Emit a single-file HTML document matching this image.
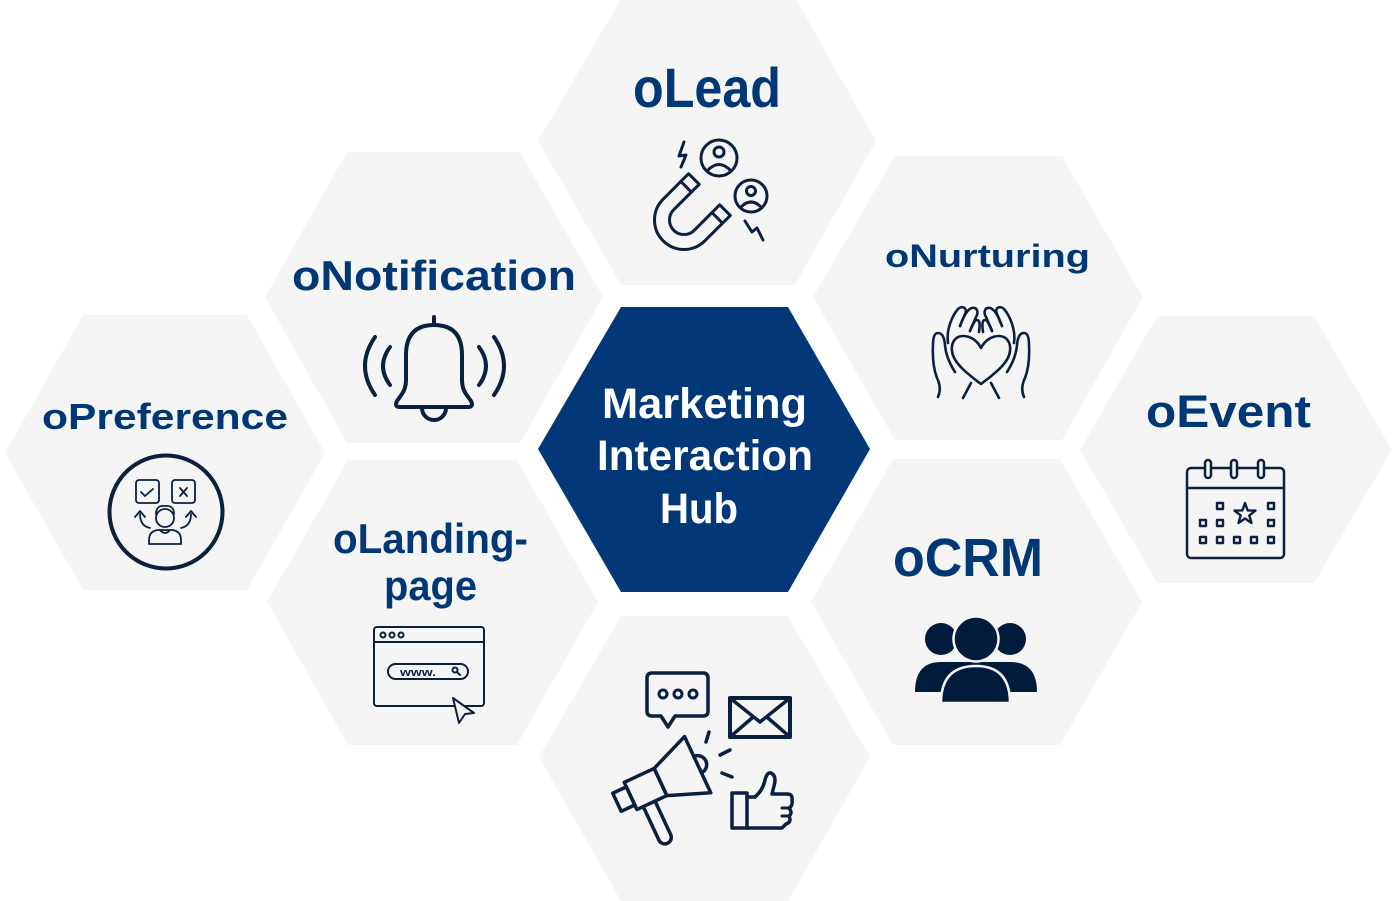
<!DOCTYPE html>
<html>
<head>
<meta charset="utf-8">
<style>
  html,body{margin:0;padding:0;background:#ffffff;}
  svg{display:block;}
  .lbl{font-family:"Liberation Sans",Arial,sans-serif;font-weight:bold;fill:#003876;}
  .hub{font-family:"Liberation Sans",Arial,sans-serif;font-weight:bold;fill:#ffffff;}
  .ic{fill:none;stroke:#0b1f3f;stroke-linecap:round;stroke-linejoin:round;}
</style>
</head>
<body>
<svg width="1394" height="901" viewBox="0 0 1394 901" xmlns="http://www.w3.org/2000/svg">
  <rect width="1394" height="901" fill="#ffffff"/>
  <!-- hexagons -->
  <g fill="#f5f5f5">
    <polygon points="622,-3 795,-3 876,141 795,285 621,285 538,141"/>
    <polygon points="347,152 520,152 603,297 520,443 347,443 265,297"/>
    <polygon points="83,315 247,315 325,453 247,590 83,590 5,453"/>
    <polygon points="348,460 517,460 598,602 517,745 348,745 267,602"/>
    <polygon points="621,616 788,616 870,757 788,901 621,901 539,757"/>
    <polygon points="895,156 1062,156 1143,297 1062,440 895,440 813,297"/>
    <polygon points="893,459 1060,459 1142,602 1060,745 893,745 811,602"/>
    <polygon points="1157,316 1314,316 1392,450 1314,583 1157,583 1080,450"/>
  </g>
  <polygon points="621,307 788,307 870,449 788,592 621,592 538,449" fill="#023877"/>

  <!-- center text -->
  <text class="hub" x="602" y="418" font-size="43" textLength="205" lengthAdjust="spacingAndGlyphs">Marketing</text>
  <text class="hub" x="597" y="470" font-size="43" textLength="216" lengthAdjust="spacingAndGlyphs">Interaction</text>
  <text class="hub" x="660" y="523" font-size="43" textLength="78" lengthAdjust="spacingAndGlyphs">Hub</text>

  <!-- labels -->
  <text class="lbl" x="633" y="107" font-size="56" textLength="148" lengthAdjust="spacingAndGlyphs">oLead</text>
  <text class="lbl" x="292" y="290" font-size="42" textLength="284" lengthAdjust="spacingAndGlyphs">oNotification</text>
  <text class="lbl" x="42" y="429" font-size="36" textLength="246" lengthAdjust="spacingAndGlyphs">oPreference</text>
  <text class="lbl" x="333" y="553" font-size="42" textLength="195" lengthAdjust="spacingAndGlyphs">oLanding-</text>
  <text class="lbl" x="384" y="600" font-size="42" textLength="93" lengthAdjust="spacingAndGlyphs">page</text>
  <text class="lbl" x="885" y="267" font-size="32" textLength="205" lengthAdjust="spacingAndGlyphs">oNurturing</text>
  <text class="lbl" x="893" y="576" font-size="54" textLength="150" lengthAdjust="spacingAndGlyphs">oCRM</text>
  <text class="lbl" x="1146" y="427" font-size="45" textLength="165" lengthAdjust="spacingAndGlyphs">oEvent</text>

  <!-- oLead icon -->
  <g class="ic" stroke-width="3">
    <g transform="translate(684,220) rotate(45)">
      <path d="M -29.5,-36 L -29.5,0 A 29.5,29.5 0 0 0 29.5,0 L 29.5,-36 L 14.5,-36 L 14.5,0 A 14.5,14.5 0 0 1 -14.5,0 L -14.5,-36 Z"/>
      <line x1="-29.5" y1="-25" x2="-14.5" y2="-25"/>
      <line x1="14.5" y1="-25" x2="29.5" y2="-25"/>
    </g>
    <circle cx="719" cy="158" r="18"/>
    <circle cx="719" cy="152" r="5"/>
    <path d="M 707,171 Q 719,158 731,171"/>
    <circle cx="751" cy="196" r="16"/>
    <circle cx="751" cy="191" r="4.5"/>
    <path d="M 741,207 Q 751,197 761,207"/>
    <path d="M 684,142 L 679,156 L 686,155 L 681,167"/>
    <path d="M 745,221 L 752,232 L 757,228 L 763,240"/>
  </g>

  <!-- oNotification bell -->
  <g class="ic" stroke-width="4">
    <line x1="434" y1="317" x2="434" y2="325"/>
    <path d="M 400,407 L 468,407 Q 474,407 471,401 L 466,394 Q 462,388 462,380 L 462,355 Q 462,325 434,325 Q 406,325 406,355 L 406,380 Q 406,388 402,394 L 397,401 Q 394,407 400,407 Z"/>
    <path d="M 422,408 A 12,12 0 0 0 446,408"/>
    <path d="M 375,337 Q 355,366 375,395"/>
    <path d="M 390,347 Q 376,366 390,385"/>
    <path d="M 494,337 Q 514,366 494,395"/>
    <path d="M 479,347 Q 493,366 479,385"/>
  </g>

  <!-- oPreference icon -->
  <circle cx="166" cy="512" r="56.5" fill="none" stroke="#0b1f3f" stroke-width="4"/>
  <g class="ic" stroke-width="1.8">
    <rect x="136" y="480" width="23" height="23" rx="3"/>
    <path d="M 141,492 L 145,496 L 153,489"/>
    <rect x="172" y="480" width="23" height="23" rx="3"/>
    <path d="M 180,488 L 187,496 M 187,488 L 180,496"/>
    <circle cx="165" cy="518" r="9"/>
    <path d="M 156,514 Q 156,505 165,506 Q 174,505 174,514"/>
    <path d="M 149,544 V 540 Q 149,531 158,530 H 172 Q 181,531 181,540 V 544 Z"/>
    <path d="M 160,530 Q 165,536 170,530"/>
    <path d="M 150,528 Q 140,526 140,514"/>
    <path d="M 135,517 L 140,511 L 145,517"/>
    <path d="M 181,528 Q 191,526 191,514"/>
    <path d="M 186,517 L 191,511 L 196,517"/>
  </g>

  <!-- oLanding-page browser -->
  <g class="ic" stroke-width="2">
    <rect x="374" y="627" width="110" height="79" rx="3"/>
    <line x1="374" y1="642" x2="484" y2="642"/>
    <circle cx="383" cy="635" r="2.5"/>
    <circle cx="392" cy="635" r="2.5"/>
    <circle cx="401" cy="635" r="2.5"/>
    <rect x="388" y="664" width="80" height="15" rx="7.5"/>
    <circle cx="455" cy="670" r="2.5"/>
    <line x1="457" y1="672" x2="460" y2="675"/>
  </g>
  <text x="400" y="676" font-family="Liberation Sans, Arial, sans-serif" font-weight="bold" font-size="11" fill="#0b1f3f" textLength="36" lengthAdjust="spacingAndGlyphs">www.</text>
  <path d="M 453,698 L 474,713 L 465,714 L 459,723 Z" fill="#f5f5f5" stroke="#0b1f3f" stroke-width="2" stroke-linejoin="round"/>

  <!-- bottom hex: marketing icons -->
  <g class="ic" stroke-width="3.5">
    <path d="M 652,673 H 703 Q 708,673 708,678 V 711 Q 708,716 703,716 H 675 L 668,727 L 661,716 H 652 Q 647,716 647,711 V 678 Q 647,673 652,673 Z"/>
    <circle cx="663" cy="694" r="4" stroke-width="3"/>
    <circle cx="678" cy="694" r="4" stroke-width="3"/>
    <circle cx="693" cy="694" r="4" stroke-width="3"/>
    <rect x="730" y="698" width="60" height="39" stroke-width="4"/>
    <path d="M 730,698 L 760,722 L 790,698"/>
    <path d="M 730,737 L 752,718 M 790,737 L 768,718"/>
    <g transform="translate(660.5,782) rotate(-25)">
      <rect x="-48" y="-10" width="15" height="20"/>
      <rect x="-33" y="-15" width="33" height="30"/>
      <path d="M 0,-15 L 41,-31 L 41,31 L 0,15 Z"/>
      <path d="M 41,-9 A 9,9 0 0 1 41,9"/>
      <path d="M -26,15 L -26,52 A 6.5,6.5 0 0 0 -13,52 L -13,15"/>
    </g>
    <line x1="706" y1="742" x2="709" y2="732"/>
    <line x1="720" y1="755" x2="730" y2="750"/>
    <line x1="722" y1="773" x2="732" y2="777"/>
    <rect x="732" y="793" width="15" height="35"/>
    <path d="M 747,797 L 755,797 Q 763,790 765,780 Q 767,772 771,773 Q 777,776 774,786 L 772,794 H 787 Q 793,794 792,800 Q 793,806 789,808 Q 793,813 789,816 Q 792,822 786,824 L 782,828 H 747"/>
    <path d="M 782,808 H 789 M 782,816 H 789" stroke-width="3"/>
  </g>

  <!-- oNurturing hands -->
  <g class="ic" stroke-width="2.6">
    <path d="M 981,348 C 977,340 970,336 963,336 C 955,336 951,343 952,351 C 953,362 965,372 981,384 C 997,372 1009,362 1010,351 C 1011,343 1007,336 999,336 C 992,336 985,340 981,348 Z"/>
    <g>
      <path d="M 938,397 Q 942,388 937,378 Q 932,365 933,345 Q 933,333 938,333 Q 944,333 945,345 Q 946,358 955,372"/>
      <path d="M 948,343 C 946,330 952,316 958,309 C 962,305 968,308 965,314 L 960,326"/>
      <path d="M 960,326 C 964,315 968,309 972,308 C 977,307 979,312 976,317 L 970,331"/>
      <path d="M 970,331 C 972,325 975,320 977,320 C 980,320 980,325 979,332"/>
      <path d="M 971,383 L 963,398"/>
    </g>
    <g transform="translate(1962,0) scale(-1,1)">
      <path d="M 938,397 Q 942,388 937,378 Q 932,365 933,345 Q 933,333 938,333 Q 944,333 945,345 Q 946,358 955,372"/>
      <path d="M 948,343 C 946,330 952,316 958,309 C 962,305 968,308 965,314 L 960,326"/>
      <path d="M 960,326 C 964,315 968,309 972,308 C 977,307 979,312 976,317 L 970,331"/>
      <path d="M 970,331 C 972,325 975,320 977,320 C 980,320 980,325 979,332"/>
      <path d="M 971,383 L 963,398"/>
    </g>
  </g>

  <!-- oCRM people -->
  <g fill="#001b3c">
    <circle cx="941" cy="639" r="16"/>
    <circle cx="1010" cy="639" r="16"/>
    <path d="M 915,692 Q 915,662 941,662 L 1010,662 Q 1037,662 1037,692 Z"/>
    <path d="M 941,703 Q 941,666 976,666 Q 1010,666 1010,703 Z" stroke="#f5f5f5" stroke-width="2.5"/>
    <circle cx="976" cy="639" r="22.5" stroke="#f5f5f5" stroke-width="2.5"/>
  </g>

  <!-- oEvent calendar -->
  <g class="ic" stroke-width="2.5">
    <rect x="1187" y="468" width="97" height="90" rx="4"/>
    <line x1="1187" y1="488" x2="1284" y2="488"/>
    <rect x="1205" y="460" width="6" height="18" rx="3" fill="#f5f5f5"/>
    <rect x="1231" y="460" width="6" height="18" rx="3" fill="#f5f5f5"/>
    <rect x="1258" y="460" width="6" height="18" rx="3" fill="#f5f5f5"/>
    <g stroke-width="2.4">
      <rect x="1217" y="503" width="6" height="6"/>
      <rect x="1268" y="503" width="6" height="6"/>
      <rect x="1200" y="520" width="6" height="6"/>
      <rect x="1217" y="520" width="6" height="6"/>
      <rect x="1268" y="520" width="6" height="6"/>
      <rect x="1200" y="537" width="6" height="6"/>
      <rect x="1217" y="537" width="6" height="6"/>
      <rect x="1234" y="537" width="6" height="6"/>
      <rect x="1251" y="537" width="6" height="6"/>
      <rect x="1268" y="537" width="6" height="6"/>
      <polygon points="1245,503 1247.6,510.4 1255.5,510.6 1249.3,515.4 1251.5,523 1245,518.5 1238.5,523 1240.7,515.4 1234.5,510.6 1242.4,510.4"/>
    </g>
  </g>
</svg>
</body>
</html>
